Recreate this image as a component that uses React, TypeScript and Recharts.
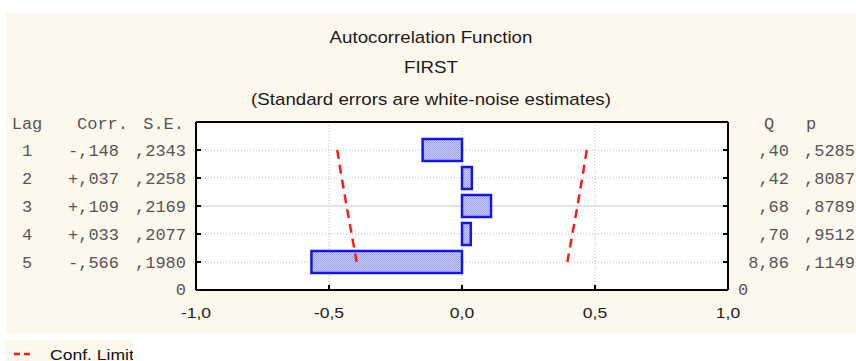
import React from 'react';
import { ComposedChart, Bar, Line, XAxis, YAxis, CartesianGrid, Legend } from 'recharts';

// ACF table, lags 1..5
const lags = [1, 2, 3, 4, 5];
const corr = [-0.148, 0.037, 0.109, 0.033, -0.566];
const stdErr = [0.2343, 0.2258, 0.2169, 0.2077, 0.198];
const boxQ = [0.4, 0.42, 0.68, 0.7, 8.86];
const pVals = [0.5285, 0.8087, 0.8789, 0.9512, 0.1149];
const confLo = [-0.469, -0.452, -0.434, -0.415, -0.396];
const confHi = [0.469, 0.452, 0.434, 0.415, 0.396];
const xTicks = [-1, -0.5, 0, 0.5, 1];
const rowTicks = [0, 1, 2, 3, 4, 5, 6];

const TOP_POS = 6;

const data = lags.map((lag, i) => ({
  pos: TOP_POS - lag,
  lag,
  corr: corr[i],
  lo: confLo[i],
  hi: confHi[i],
}));

// statistica style: comma decimal, no leading zero
const fmt = (v: number, digits: number, signed = false) => {
  let s = Math.abs(v).toFixed(digits).replace('.', ',');
  if (s.startsWith('0,')) s = s.slice(1);
  if (signed) s = (v < 0 ? '-' : '+') + s;
  return s;
};

const PLOT_L = 196;
const PLOT_R = 728;
const PLOT_T = 122;
const PLOT_B = 290;

const mono: React.CSSProperties = { fontFamily: '"Liberation Mono", "Courier New", monospace', fontSize: 17 };
const monoFill = '#555';
const sans = '"Liberation Sans", Arial, sans-serif';
const STRETCH = 1.17;

const WideText = ({ x, y, anchor = 'middle', size = 15, fill = '#222', children }: any) => (
  <text
    transform={`translate(${x},${y}) scale(${STRETCH},1)`}
    textAnchor={anchor}
    dominantBaseline="central"
    fontFamily={sans}
    fontSize={size}
    fill={fill}
  >
    {children}
  </text>
);

const LeftTick = (props: any) => {
  const { y, payload } = props;
  const pos = payload.value;
  if (pos === TOP_POS) {
    return (
      <g style={mono} fill={monoFill}>
        <text x={27} y={y + 2} textAnchor="middle" dominantBaseline="central">Lag</text>
        <text x={128} y={y + 2} textAnchor="end" dominantBaseline="central">Corr.</text>
        <text x={184} y={y + 2} textAnchor="end" dominantBaseline="central">S.E.</text>
      </g>
    );
  }
  if (pos === 0) {
    return (
      <text x={186} y={y} textAnchor="end" dominantBaseline="central" style={mono} fill={monoFill}>0</text>
    );
  }
  const i = lags.indexOf(TOP_POS - pos);
  return (
    <g style={mono} fill={monoFill}>
      <line x1={PLOT_L} x2={PLOT_L + 5} y1={y} y2={y} stroke="#000" strokeWidth={2} />
      <text x={27} y={y + 1} textAnchor="middle" dominantBaseline="central">{lags[i]}</text>
      <text x={119} y={y + 1} textAnchor="end" dominantBaseline="central">{fmt(corr[i], 3, true)}</text>
      <text x={186} y={y + 1} textAnchor="end" dominantBaseline="central">{fmt(stdErr[i], 4)}</text>
    </g>
  );
};

const RightTick = (props: any) => {
  const { y, payload } = props;
  const pos = payload.value;
  if (pos === TOP_POS) {
    return (
      <g style={mono} fill={monoFill}>
        <text x={769} y={y + 2} textAnchor="middle" dominantBaseline="central">Q</text>
        <text x={811} y={y + 2} textAnchor="middle" dominantBaseline="central">p</text>
      </g>
    );
  }
  if (pos === 0) {
    return (
      <text x={738} y={y} textAnchor="start" dominantBaseline="central" style={mono} fill={monoFill}>0</text>
    );
  }
  const i = lags.indexOf(TOP_POS - pos);
  return (
    <g style={mono} fill={monoFill}>
      <line x1={PLOT_R - 5} x2={PLOT_R} y1={y} y2={y} stroke="#000" strokeWidth={2} />
      <text x={789} y={y + 1} textAnchor="end" dominantBaseline="central">{fmt(boxQ[i], 2)}</text>
      <text x={855} y={y + 1} textAnchor="end" dominantBaseline="central">{fmt(pVals[i], 4)}</text>
    </g>
  );
};

const BottomTick = (props: any) => {
  const { x, payload } = props;
  const v = payload.value;
  const inner = v > -1 && v < 1;
  return (
    <g>
      {inner && <line x1={x} x2={x} y1={PLOT_B} y2={PLOT_B - 5} stroke="#000" strokeWidth={2} />}
      <WideText x={x} y={312}>{v.toFixed(1).replace('.', ',')}</WideText>
    </g>
  );
};

const TopTick = (props: any) => {
  const { x, payload } = props;
  const v = payload.value;
  if (v <= -1 || v >= 1) return <g />;
  return <line x1={x} x2={x} y1={PLOT_T} y2={PLOT_T + 5} stroke="#000" strokeWidth={2} />;
};

const LegendBox = () => (
  <div style={{ position: 'absolute', left: 5, top: 340, width: 128, height: 21, background: '#fdf8ee' }}>
    <svg width={128} height={21}>
      <line x1={9} x2={29} y1={14} y2={14} stroke="#ff1a1a" strokeWidth={2.5} strokeDasharray="6 4" />
      <WideText x={45} y={14} anchor="start" fill="#111">Conf. Limit</WideText>
    </svg>
  </div>
);

const Titles = () => (
  <svg width={856} height={120} style={{ position: 'absolute', left: 0, top: 0 }}>
    <WideText x={431} y={37} size={16} fill="#1a1a1a">Autocorrelation Function</WideText>
    <WideText x={431} y={67} size={16} fill="#1a1a1a">FIRST</WideText>
    <WideText x={431} y={99} size={16} fill="#1a1a1a">(Standard errors are white-noise estimates)</WideText>
  </svg>
);

export default function App() {
  return (
    <div style={{ position: 'relative', width: 856, height: 361, background: '#fff', overflow: 'hidden' }}>
      <style>{'body{margin:0}'}</style>
      <svg width={0} height={0} style={{ position: 'absolute' }}>
        <defs>
          <pattern id="acfDots" width={2} height={2} patternUnits="userSpaceOnUse">
            <rect width={2} height={2} fill="#c9ccf7" />
            <rect width={1} height={1} fill="#979ded" />
            <rect x={1} y={1} width={1} height={1} fill="#a5aaf0" />
          </pattern>
        </defs>
      </svg>
      <div style={{ position: 'absolute', left: 6, top: 13, width: 850, height: 320, background: '#fdf8ee' }} />
      <Titles />
      <div style={{ position: 'absolute', left: 0, top: 0 }}>
        <ComposedChart
          width={856}
          height={361}
          layout="vertical"
          data={data}
          margin={{ top: PLOT_T - 1, right: 856 - PLOT_R - 10, bottom: 361 - PLOT_B - 30, left: PLOT_L - 10 }}
        >
          <CartesianGrid fill="#fff" stroke="#b8b8b8" strokeDasharray="1 2" horizontalValues={rowTicks} verticalValues={xTicks} />
          <CartesianGrid stroke="#e2e2e2" strokeWidth={2} vertical={false} horizontalValues={[3]} />
          <XAxis
            type="number"
            domain={[-1, 1]}
            ticks={xTicks}
            height={30}
            axisLine={{ stroke: '#000', strokeWidth: 2 }}
            tickLine={false}
            tick={<BottomTick />}
            interval={0}
          />
          <XAxis
            xAxisId="top"
            orientation="top"
            type="number"
            domain={[-1, 1]}
            ticks={xTicks}
            height={1}
            axisLine={{ stroke: '#000', strokeWidth: 2 }}
            tickLine={false}
            tick={<TopTick />}
            interval={0}
          />
          <YAxis
            type="number"
            dataKey="pos"
            domain={[0, TOP_POS]}
            ticks={rowTicks}
            reversed
            width={10}
            axisLine={{ stroke: '#000', strokeWidth: 2 }}
            tickLine={false}
            tick={<LeftTick />}
            interval={0}
          />
          <YAxis
            yAxisId="r"
            orientation="right"
            type="number"
            dataKey="pos"
            domain={[0, TOP_POS]}
            ticks={rowTicks}
            reversed
            width={10}
            axisLine={{ stroke: '#000', strokeWidth: 2 }}
            tickLine={false}
            tick={<RightTick />}
            interval={0}
          />
          <Bar dataKey="corr" barSize={22} fill="url(#acfDots)" stroke="#1414f0" strokeWidth={2.5} isAnimationActive={false} />
          <Line dataKey="lo" stroke="#ff1a1a" strokeWidth={2.5} strokeDasharray="9 6" dot={false} isAnimationActive={false} />
          <Line dataKey="hi" stroke="#ff1a1a" strokeWidth={2.5} strokeDasharray="9 6" dot={false} isAnimationActive={false} />
          <Legend content={<LegendBox />} wrapperStyle={{ position: 'absolute', left: 0, top: 0, width: 0, height: 0 }} />
        </ComposedChart>
      </div>
    </div>
  );
}
